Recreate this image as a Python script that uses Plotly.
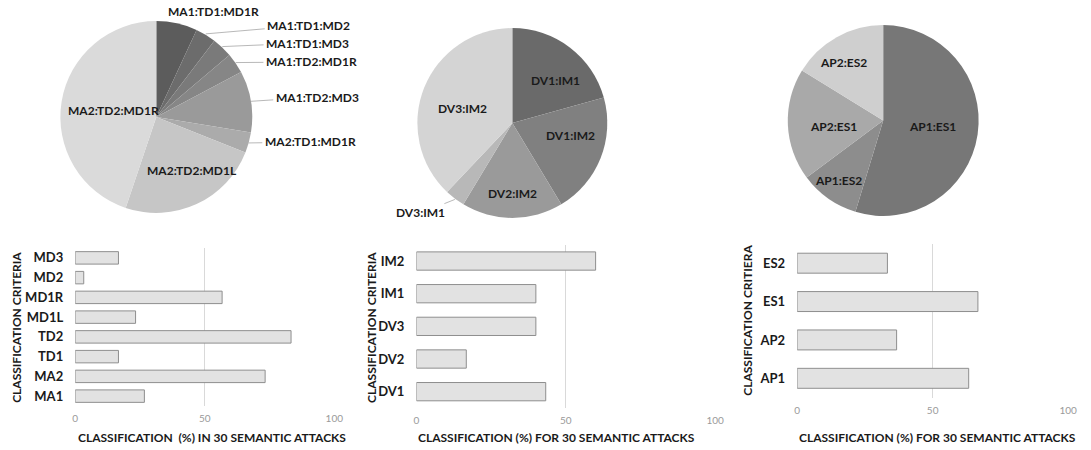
import math
import plotly.graph_objects as go

# ---------------- data ----------------
pie1_labels = ["MA1:TD1:MD1R", "MA1:TD1:MD2", "MA1:TD1:MD3", "MA1:TD2:MD1R",
               "MA1:TD2:MD3", "MA2:TD1:MD1R", "MA2:TD2:MD1L", "MA2:TD2:MD1R"]
pie1_values = [2, 1, 1, 1, 3, 1, 7, 13]

pie2_labels = ["DV1:IM1", "DV1:IM2", "DV2:IM2", "DV3:IM1", "DV3:IM2"]
pie2_values = [6, 6, 5, 1, 11]

pie3_labels = ["AP1:ES1", "AP1:ES2", "AP2:ES1", "AP2:ES2"]
pie3_values = [54.7, 10.1, 19.0, 16.2]

bar1_cats = ["MA1", "MA2", "TD1", "TD2", "MD1L", "MD1R", "MD2", "MD3"]
bar1_vals = [26.7, 73.3, 16.7, 83.3, 23.3, 56.7, 3.3, 16.7]

bar2_cats = ["DV1", "DV2", "DV3", "IM1", "IM2"]
bar2_vals = [43.3, 16.7, 40.0, 40.0, 60.0]

bar3_cats = ["AP1", "AP2", "ES1", "ES2"]
bar3_vals = [63.3, 36.7, 66.7, 33.3]

xticks = [0, 50, 100]

# ---------------- styles / layout ----------------
W, H = 1091, 450
FONT = "Lato"
pie1_colors = ["#5c5c5c", "#6c6c6c", "#7a7a7a", "#868686", "#9a9a9a", "#ababab", "#c6c6c6", "#dadada"]
pie2_colors = ["#6a6a6a", "#808080", "#9a9a9a", "#b8b8b8", "#d4d4d4"]
pie3_colors = ["#777777", "#8d8d8d", "#a9a9a9", "#cfcfcf"]

# pie geometry (pixels): centre x, centre y, radius
pie1_geo = (155, 117, 97)
pie2_geo = (515, 123, 96)
pie3_geo = (890, 120.5, 96.5)

# label placement (pixels, text centre) and whether a leader line is drawn
pie1_label_pos = [(213, 12, False), (308, 25, True), (307, 43, True), (311, 62, True),
                  (317, 97, True), (310, 142, True), (191, 170, False), (112, 110, False)]
pie2_label_pos = [(559, 80, False), (574, 136, False), (515, 193, False),
                  (423, 213, True), (465, 108, False)]
pie3_label_pos = [(940, 127, False), (845, 180, False), (840, 126, False), (850, 62, False)]


def px_x(a, b):
    return [a / W, b / W]


def px_y(top, bottom):
    return [1 - bottom / H, 1 - top / H]


def domain_of(geo):
    cx, cy, r = geo
    return dict(x=px_x(cx - r, cx + r), y=px_y(cy - r, cy + r))


fig = go.Figure()

label_font = dict(family=FONT, size=12, color="#1a1a1a", weight="bold")

for labels, values, colors, geo in [
    (pie1_labels, pie1_values, pie1_colors, pie1_geo),
    (pie2_labels, pie2_values, pie2_colors, pie2_geo),
    (pie3_labels, pie3_values, pie3_colors, pie3_geo),
]:
    fig.add_trace(go.Pie(
        labels=labels, values=values, sort=False, direction="clockwise", rotation=0,
        marker=dict(colors=colors, line=dict(width=0)),
        textinfo="none", domain=domain_of(geo), showlegend=False,
        hoverinfo="label+value",
    ))


def add_pie_labels(labels, values, geo, positions):
    cx, cy, r = geo
    total = float(sum(values))
    cum = 0.0
    for lab, v, (tx, ty, line) in zip(labels, values, positions):
        mid = (cum + v / 2) / total * 2 * math.pi
        cum += v
        if line:
            ex = cx + r * math.sin(mid)
            ey = cy - r * math.cos(mid)
            fig.add_annotation(
                xref="paper", yref="paper", x=ex / W, y=1 - ey / H,
                ax=tx - ex, ay=ty - ey, showarrow=True, arrowhead=0,
                arrowwidth=0.8, arrowcolor="#a6a6a6", standoff=0, startstandoff=1,
                text=lab, font=label_font, xanchor="center", yanchor="middle",
            )
        else:
            fig.add_annotation(
                xref="paper", yref="paper", x=tx / W, y=1 - ty / H, showarrow=False,
                text=lab, font=label_font, xanchor="center", yanchor="middle",
            )


add_pie_labels(pie1_labels, pie1_values, pie1_geo, pie1_label_pos)
add_pie_labels(pie2_labels, pie2_values, pie2_geo, pie2_label_pos)
add_pie_labels(pie3_labels, pie3_values, pie3_geo, pie3_label_pos)

bar_style = dict(color="#e2e2e2", line=dict(color="#8e8e8e", width=1))
fig.add_trace(go.Bar(y=bar1_cats, x=bar1_vals, orientation="h", marker=bar_style, width=0.63,
                     xaxis="x", yaxis="y", showlegend=False))
fig.add_trace(go.Bar(y=bar2_cats, x=bar2_vals, orientation="h", marker=bar_style, width=0.56,
                     xaxis="x2", yaxis="y2", showlegend=False))
fig.add_trace(go.Bar(y=bar3_cats, x=bar3_vals, orientation="h", marker=bar_style, width=0.52,
                     xaxis="x3", yaxis="y3", showlegend=False))

xa = dict(range=[0, 100], tickvals=xticks, showgrid=True, gridcolor="#d9d9d9", gridwidth=1,
          zeroline=False, showline=False, ticks="", fixedrange=True, ticklabelstandoff=5,
          tickfont=dict(family=FONT, size=10, color="#9a9a9a"))
ya = dict(showgrid=False, zeroline=False, showline=False, ticks="", fixedrange=True,
          tickfont=dict(family=FONT, size=13, color="#1a1a1a", weight="bold"),
          ticklabelstandoff=11)

fig.update_layout(
    width=W, height=H, margin=dict(l=0, r=0, t=0, b=0),
    paper_bgcolor="white", plot_bgcolor="white",
    xaxis=dict(xa, domain=px_x(73, 335), anchor="y"),
    yaxis=dict(ya, domain=px_y(248, 406), anchor="x"),
    xaxis2=dict(xa, domain=px_x(418, 720), anchor="y2"),
    yaxis2=dict(ya, domain=px_y(244.7, 408), anchor="x2"),
    xaxis3=dict(xa, domain=px_x(803, 1077), anchor="y3"),
    yaxis3=dict(ya, domain=px_y(244, 397.5), anchor="x3"),
    font=dict(family=FONT),
)

title_font = dict(family=FONT, size=12, color="#1a1a1a", weight="bold")
annots = [
    dict(text="CLASSIFICATION  (%) IN 30 SEMANTIC ATTACKS", x=211 / W, y=1 - 437 / H),
    dict(text="CLASSIFICATION (%) FOR 30 SEMANTIC ATTACKS", x=560 / W, y=1 - 437 / H),
    dict(text="CLASSIFICATION (%) FOR 30 SEMANTIC ATTACKS", x=945 / W, y=1 - 437 / H),
    dict(text="CLASSIFICATION CRITERIA", x=13 / W, y=1 - 327 / H, textangle=-90),
    dict(text="CLASSIFICATION CRITERIA", x=372 / W, y=1 - 327 / H, textangle=-90),
    dict(text="CLASSIFICATION CRITIERA", x=752 / W, y=1 - 320 / H, textangle=-90),
]
for a in annots:
    fig.add_annotation(xref="paper", yref="paper", showarrow=False, font=title_font,
                       xanchor="center", yanchor="middle", **a)

fig.write_html("out.html")
